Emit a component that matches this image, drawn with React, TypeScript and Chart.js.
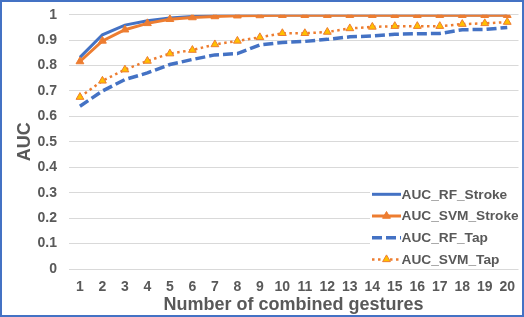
import React, { useEffect, useRef } from "react";
import { Chart, registerables } from "chart.js";

Chart.register(...registerables);

const labels = ["1","2","3","4","5","6","7","8","9","10","11","12","13","14","15","16","17","18","19","20"];
const seriesNames = ["AUC_RF_Stroke", "AUC_SVM_Stroke", "AUC_RF_Tap", "AUC_SVM_Tap"];
const rfStroke = [0.832, 0.921, 0.959, 0.976, 0.987, 0.993, 0.997, 0.998, 0.999, 0.999, 0.999, 0.999, 0.999, 0.999, 0.999, 0.999, 0.999, 0.999, 0.999, 0.999];
const svmStroke = [0.816, 0.897, 0.941, 0.966, 0.982, 0.989, 0.993, 0.996, 0.997, 0.998, 0.998, 0.998, 0.998, 0.998, 0.998, 0.998, 0.998, 0.998, 0.998, 0.998];
const rfTap = [0.64, 0.70, 0.745, 0.771, 0.804, 0.824, 0.842, 0.847, 0.881, 0.891, 0.895, 0.903, 0.913, 0.916, 0.923, 0.925, 0.926, 0.941, 0.942, 0.95];
const svmTap = [0.676, 0.74, 0.784, 0.818, 0.847, 0.861, 0.883, 0.897, 0.911, 0.927, 0.927, 0.932, 0.946, 0.952, 0.955, 0.955, 0.955, 0.963, 0.966, 0.971];
const yTicks = [0, 0.1, 0.2, 0.3, 0.4, 0.5, 0.6, 0.7, 0.8, 0.9, 1];

const BLUE = "#4472C4";
const ORANGE = "#ED7D31";
const GOLD = "#FFC000";
const TEXT = "#595959";
const FONT = "'Liberation Sans', Arial, sans-serif";

const legendPlugin = {
  id: "insideLegend",
  afterDraw(chart: any) {
    const ctx = chart.ctx;
    ctx.save();
    ctx.fillStyle = "#ffffff";
    ctx.fillRect(370, 184, 150, 84);
    const ds = chart.data.datasets;
    ds.forEach((d: any, i: number) => {
      const y = 194.3 + i * 21.7;
      ctx.save();
      ctx.strokeStyle = d.borderColor;
      ctx.lineWidth = d.borderWidth;
      ctx.setLineDash(d.borderDash || []);
      ctx.beginPath();
      ctx.moveTo(372, y);
      ctx.lineTo(401, y);
      ctx.stroke();
      ctx.restore();
      if (d.pointRadius > 0) {
        ctx.save();
        ctx.setLineDash([]);
        ctx.fillStyle = d.pointBackgroundColor;
        ctx.strokeStyle = d.pointBorderColor;
        ctx.lineWidth = d.pointBorderWidth;
        const r = d.pointRadius;
        const cx = 386.5;
        ctx.beginPath();
        ctx.moveTo(cx, y - r);
        ctx.lineTo(cx + r * 0.866, y + r * 0.5);
        ctx.lineTo(cx - r * 0.866, y + r * 0.5);
        ctx.closePath();
        ctx.fill();
        ctx.stroke();
        ctx.restore();
      }
      ctx.fillStyle = TEXT;
      ctx.font = `bold 13.7px ${FONT}`;
      ctx.textBaseline = "middle";
      ctx.textAlign = "left";
      ctx.fillText(d.label, 401.5, y + 0.5);
    });
    ctx.restore();
  },
};

export default function App() {
  const ref = useRef<HTMLCanvasElement>(null);
  useEffect(() => {
    document.body.style.margin = "0";
    const chart = new Chart(ref.current!, {
      type: "line",
      data: {
        labels,
        datasets: [
          {
            label: seriesNames[0],
            data: rfStroke,
            borderColor: BLUE,
            backgroundColor: BLUE,
            borderWidth: 3,
            pointRadius: 0,
            tension: 0,
            order: 4,
          },
          {
            label: seriesNames[1],
            data: svmStroke,
            borderColor: ORANGE,
            backgroundColor: ORANGE,
            borderWidth: 3,
            pointStyle: "triangle",
            pointRadius: 4.5,
            pointBackgroundColor: ORANGE,
            pointBorderColor: ORANGE,
            pointBorderWidth: 1,
            tension: 0,
            order: 3,
          },
          {
            label: seriesNames[2],
            data: rfTap,
            borderColor: BLUE,
            backgroundColor: BLUE,
            borderWidth: 3.5,
            borderDash: [10, 4],
            pointRadius: 0,
            tension: 0,
            order: 2,
          },
          {
            label: seriesNames[3],
            data: svmTap,
            borderColor: ORANGE,
            backgroundColor: GOLD,
            borderWidth: 2.5,
            borderDash: [2.5, 3.5],
            pointStyle: "triangle",
            pointRadius: 4.5,
            pointBackgroundColor: GOLD,
            pointBorderColor: ORANGE,
            pointBorderWidth: 1,
            tension: 0,
            order: 1,
          },
        ] as any,
      },
      options: {
        animation: false,
        responsive: false,
        maintainAspectRatio: false,
        layout: { padding: { top: 14.7, right: 4, left: 0, bottom: 0 } },
        plugins: {
          legend: { display: false },
          tooltip: { enabled: false },
        },
        scales: {
          x: {
            offset: true,
            grid: { display: false, drawTicks: false },
            border: { display: false },
            ticks: {
              color: TEXT,
              font: { family: FONT, size: 14, weight: "bold" },
              padding: 9.5,
              maxRotation: 0,
              autoSkip: false,
            },
            title: {
              display: true,
              text: "Number of combined gestures",
              color: TEXT,
              font: { family: FONT, size: 18, weight: "bold" },
              padding: { top: 0, bottom: 1.2 },
            },
            afterFit(scale: any) {
              scale.height = 48;
              scale.paddingLeft = 0;
              scale.paddingRight = 0;
            },
          },
          y: {
            min: 0,
            max: 1,
            afterBuildTicks(scale: any) {
              scale.ticks = yTicks.map((v) => ({ value: v }));
            },
            grid: { color: "#D9D9D9", lineWidth: 1, drawTicks: false },
            border: { display: false },
            ticks: {
              color: TEXT,
              font: { family: FONT, size: 14, weight: "bold" },
              padding: 11.7,
              callback: (v: any) => String(Math.round(v * 10) / 10),
            },
            title: {
              display: true,
              text: "AUC",
              color: TEXT,
              font: { family: FONT, size: 18, weight: "bold" },
              padding: { top: 14.2, bottom: 0 },
            },
            afterFit(scale: any) {
              scale.width = 68.7;
              scale.paddingTop = 0;
              scale.paddingBottom = 0;
            },
          },
        },
      },
      plugins: [legendPlugin],
    });
    return () => chart.destroy();
  }, []);
  return (
    <div style={{ position: "relative", width: 524, height: 317, background: "#fff" }}>
      <canvas ref={ref} width={524} height={317} style={{ display: "block" }} />
      <div
        style={{
          position: "absolute",
          left: 0,
          top: 0,
          width: 524,
          height: 317,
          boxSizing: "border-box",
          border: `2px solid ${BLUE}`,
          pointerEvents: "none",
        }}
      />
    </div>
  );
}
